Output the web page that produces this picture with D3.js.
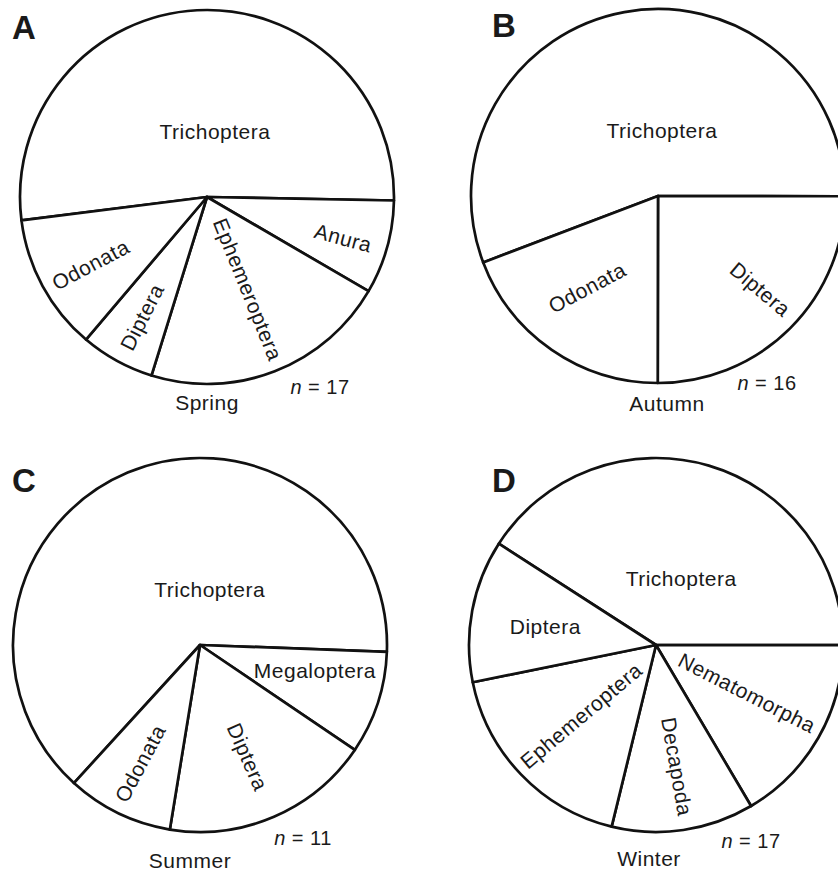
<!DOCTYPE html>
<html>
<head>
<meta charset="utf-8">
<script src="https://cdn.jsdelivr.net/npm/d3@7"></script>
<style>
  html, body { margin: 0; padding: 0; background: #fff; }
  svg { display: block; }
  text { font-family: "Liberation Sans", Arial, Helvetica, sans-serif; fill: #1a1a1a; }
</style>
</head>
<body>
<svg id="chart" width="838" height="873"></svg>
<script>
// Diet composition (% of prey) by season, slices listed clockwise from the top-left boundary
const springTaxa   = ["Trichoptera", "Anura", "Ephemeroptera", "Diptera", "Odonata"];
const springValues = [52.3, 8.1, 21.4, 6.4, 11.8];

const autumnTaxa   = ["Trichoptera", "Diptera", "Odonata"];
const autumnValues = [55.8, 25.0, 19.2];

const summerTaxa   = ["Trichoptera", "Megaloptera", "Diptera", "Odonata"];
const summerValues = [63.8, 8.9, 18.1, 9.2];

const winterTaxa   = ["Trichoptera", "Nematomorpha", "Decapoda", "Ephemeroptera", "Diptera"];
const winterValues = [40.9, 16.5, 12.3, 18.0, 12.3];

const panelLetters = ["A", "B", "C", "D"];
const seasons      = ["Spring", "Autumn", "Summer", "Winter"];
const sampleSizes  = [17, 16, 11, 17];

// Layout: pie centres, first-slice start angle (deg, clockwise from 12 o'clock),
// and label placement (polar angle deg, radius fraction, text rotation deg)
const panels = [
  { taxa: springTaxa, values: springValues, cx: 207, cy: 197, start: -97.2,
    letter: [12, 39], nPos: [113, 190], sPos: [0, 206],
    labels: [[7, 0.35, 0], [106.8, 0.76, 15], [156.2, 0.54, 68], [208.4, 0.73, -63], [239.8, 0.72, -28]] },
  { taxa: autumnTaxa, values: autumnValues, cx: 658, cy: 196, start: -110.8,
    letter: [492, 37], nPos: [109, 187], sPos: [9, 208],
    labels: [[3.5, 0.35, 0], [132.4, 0.74, 40], [217.7, 0.62, -28]] },
  { taxa: summerTaxa, values: summerValues, cx: 200, cy: 645, start: -137.6,
    letter: [12, 492], nPos: [103, 193], sPos: [-10, 216],
    labels: [[10, 0.30, 0], [102.7, 0.63, 0], [157, 0.65, 66], [206.8, 0.71, -62]] },
  { taxa: winterTaxa, values: winterValues, cx: 656, cy: 645, start: -57.2,
    letter: [492, 492], nPos: [95, 196], sPos: [-7, 214],
    labels: [[20.7, 0.38, 0], [117.8, 0.55, 27], [170.3, 0.66, 80], [226.6, 0.55, -40], [279.6, 0.60, 0]] }
];

const R = 187;
const rad = d => d * Math.PI / 180;
const svg = d3.select("#chart");
const arc = d3.arc().innerRadius(0).outerRadius(R);

panels.forEach((p, i) => {
  const pie = d3.pie().sort(null).value(d => d)
    .startAngle(rad(p.start)).endAngle(rad(p.start) + 2 * Math.PI);
  const slices = pie(p.values);

  const g = svg.append("g").attr("transform", `translate(${p.cx},${p.cy})`);

  g.selectAll("path.slice")
    .data(slices)
    .join("path")
    .attr("class", "slice")
    .attr("d", arc)
    .attr("fill", "#fff")
    .attr("stroke", "#111")
    .attr("stroke-width", 2.7)
    .attr("stroke-linejoin", "round");

  g.selectAll("text.taxon")
    .data(slices)
    .join("text")
    .attr("class", "taxon")
    .attr("transform", (d, j) => {
      const [a, f, rot] = p.labels[j];
      const [x, y] = d3.pointRadial(rad(a), f * R);
      return `translate(${x},${y}) rotate(${rot})`;
    })
    .attr("text-anchor", "middle")
    .attr("dy", "0.35em")
    .attr("font-size", 21)
    .attr("letter-spacing", 0.5)
    .text((d, j) => p.taxa[j]);

  const nt = g.append("text")
    .attr("x", p.nPos[0]).attr("y", p.nPos[1])
    .attr("text-anchor", "middle").attr("dy", "0.35em")
    .attr("font-size", 20)
    .attr("letter-spacing", 0.5);
  nt.append("tspan").attr("font-style", "italic").text("n");
  nt.append("tspan").text(" = " + sampleSizes[i]);

  g.append("text")
    .attr("x", p.sPos[0]).attr("y", p.sPos[1])
    .attr("text-anchor", "middle").attr("dy", "0.35em")
    .attr("font-size", 21)
    .attr("letter-spacing", 0.5)
    .text(seasons[i]);

  svg.append("text")
    .attr("x", p.letter[0]).attr("y", p.letter[1])
    .attr("font-size", 33).attr("font-weight", "bold")
    .attr("fill", "#000")
    .text(panelLetters[i]);
});
</script>
</body>
</html>
